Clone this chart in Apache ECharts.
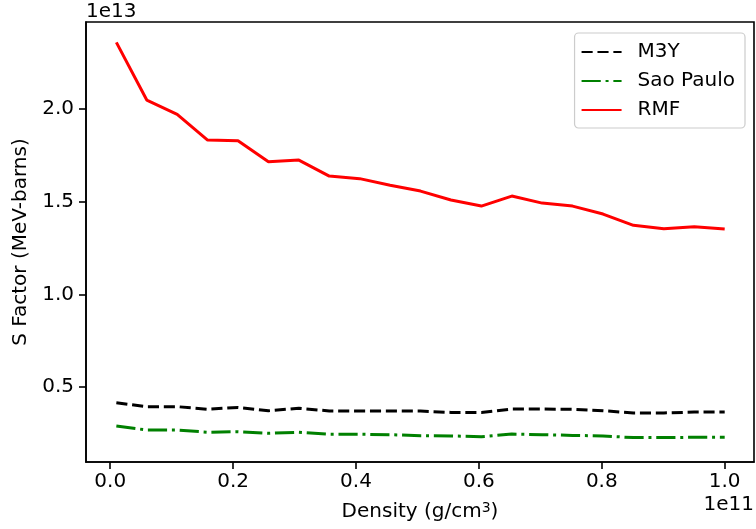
<!DOCTYPE html>
<html><head><meta charset="utf-8">
<script src="https://cdn.jsdelivr.net/npm/echarts@6/dist/echarts.min.js"></script>
<style>html,body{margin:0;padding:0;background:#fff}#c{width:756px;height:529px}</style>
</head><body><div id="c"></div>
<script>
// density in units of 1e11 g/cm^3
const density = [0.01, 0.0595, 0.109, 0.1585, 0.208, 0.2575, 0.307, 0.3565, 0.406, 0.4555, 0.505,
                 0.5545, 0.604, 0.6535, 0.703, 0.7525, 0.802, 0.8515, 0.901, 0.9505, 1.0];
// S factor in units of 1e13 MeV-barns
const m3y = [0.415, 0.394, 0.394, 0.380, 0.390, 0.372, 0.385, 0.371, 0.370, 0.370, 0.370,
             0.363, 0.363, 0.381, 0.381, 0.380, 0.372, 0.360, 0.360, 0.365, 0.365];
const saoPaulo = [0.290, 0.268, 0.268, 0.256, 0.259, 0.250, 0.256, 0.245, 0.245, 0.243, 0.237,
                  0.236, 0.232, 0.246, 0.243, 0.239, 0.236, 0.227, 0.227, 0.229, 0.229];
const rmf = [2.359, 2.048, 1.971, 1.832, 1.829, 1.715, 1.724, 1.638, 1.624, 1.588, 1.557,
             1.509, 1.476, 1.530, 1.492, 1.476, 1.433, 1.372, 1.354, 1.365, 1.352];
const xTicks = [0.0, 0.2, 0.4, 0.6, 0.8, 1.0];
const yTicks = [0.5, 1.0, 1.5, 2.0];
const seriesNames = ['M3Y', 'Sao Paulo', 'RMF'];

const FONT = 'DejaVu Sans';
const FS = 20;
const zip = (xs, ys) => xs.map((x, i) => [x, ys[i]]);

const chart = echarts.init(document.getElementById('c'), null, {renderer: 'canvas'});
chart.setOption({
  animation: false,
  backgroundColor: '#fff',
  textStyle: {fontFamily: FONT},
  grid: {left: 86, top: 22, right: 2, bottom: 67, show: true, borderColor: '#000', borderWidth: 1.6, containLabel: false},
  xAxis: {
    type: 'value', min: -0.0394, max: 1.0477,
    name: 'Density (g/cm{sup|3})', nameLocation: 'middle', nameGap: 39,
    nameTextStyle: {fontFamily: FONT, fontSize: FS, color: '#000',
      rich: {sup: {fontFamily: FONT, fontSize: 14, verticalAlign: 'top', padding: [0, 0, 8, 0], color: '#000'}}},
    axisLine: {show: true, onZero: false, lineStyle: {color: '#000', width: 1.6}},
    axisTick: {show: true, length: 7, lineStyle: {color: '#000', width: 1.6}, customValues: xTicks},
    axisLabel: {fontFamily: FONT, fontSize: FS, color: '#000', margin: 10, customValues: xTicks,
      formatter: v => v.toFixed(1)},
    splitLine: {show: false}
  },
  yAxis: {
    type: 'value', min: 0.0955, max: 2.469,
    name: 'S Factor (MeV-barns)', nameLocation: 'middle', nameGap: 54,
    nameTextStyle: {fontFamily: FONT, fontSize: FS, color: '#000'},
    axisLine: {show: true, onZero: false, lineStyle: {color: '#000', width: 1.6}},
    axisTick: {show: true, length: 7, lineStyle: {color: '#000', width: 1.6}, customValues: yTicks},
    axisLabel: {fontFamily: FONT, fontSize: FS, color: '#000', margin: 12, customValues: yTicks,
      formatter: v => v.toFixed(1)},
    splitLine: {show: false}
  },
  legend: {
    show: true, orient: 'vertical', right: 11, top: 33,
    padding: [9, 10, 8, 6], itemGap: 9, itemWidth: 40, itemHeight: 14,
    borderColor: '#cccccc', borderWidth: 1.2, borderRadius: 4, backgroundColor: '#fff',
    itemStyle: {color: 'rgba(0,0,0,0)', borderWidth: 0, opacity: 0},
    textStyle: {fontFamily: FONT, fontSize: FS, color: '#000', padding: [0, 0, 0, 11]},
    data: seriesNames
  },
  graphic: [
    {type: 'text', left: 86, top: 2, style: {text: '1e13', font: FS + 'px "DejaVu Sans"', fill: '#000'}},
    {type: 'text', right: 2, top: 495, style: {text: '1e11', font: FS + 'px "DejaVu Sans"', fill: '#000'}}
  ],
  series: [
    {name: seriesNames[0], type: 'line', data: zip(density, m3y), symbol: 'none', smooth: false,
     color: '#000', lineStyle: {color: '#000', width: 3, type: [11.1, 4.8]}},
    {name: seriesNames[1], type: 'line', data: zip(density, saoPaulo), symbol: 'none',
     color: '#008000', lineStyle: {color: '#008000', width: 3, type: [19.2, 4.8, 3, 4.8]}},
    {name: seriesNames[2], type: 'line', data: zip(density, rmf), symbol: 'none',
     color: '#ff0000', lineStyle: {color: '#ff0000', width: 3, type: 'solid'}}
  ]
});
</script></body></html>
